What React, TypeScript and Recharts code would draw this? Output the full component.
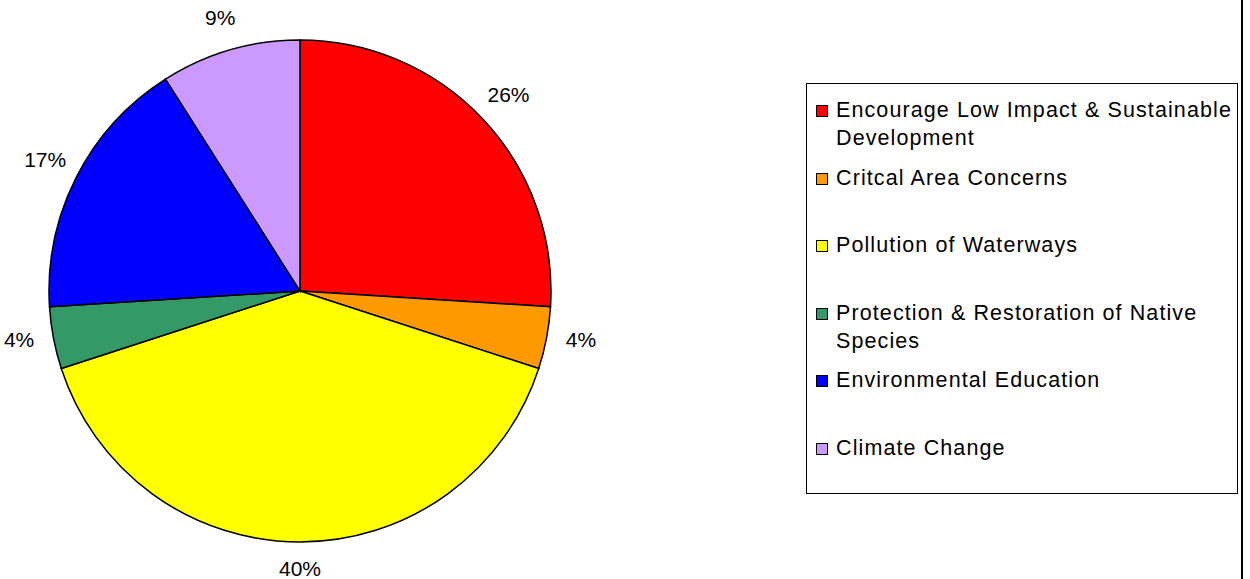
import { Cell, Legend, Pie, PieChart } from 'recharts'

const categories = [
  'Encourage Low Impact & Sustainable Development',
  'Critcal Area Concerns',
  'Pollution of Waterways',
  'Protection & Restoration of Native Species',
  'Environmental Education',
  'Climate Change',
]
const shares = [26, 4, 40, 4, 17, 9]
const colors = ['#FF0000', '#FF9900', '#FFFF00', '#339966', '#0000FF', '#CC99FF']

const data = categories.map((name, i) => ({ name, value: shares[i] }))

const FONT = '"Liberation Sans", Arial, sans-serif'
const RADIAN = Math.PI / 180

type LabelProps = { cx: number; cy: number; midAngle: number; outerRadius: number; value: number }

const renderLabel = ({ cx, cy, midAngle, outerRadius, value }: LabelProps) => {
  const cos = Math.cos(-midAngle * RADIAN)
  const sin = Math.sin(-midAngle * RADIAN)
  const x = cx + (outerRadius + 35) * cos
  const y = cy + (outerRadius + 30) * sin - 4
  return (
    <text x={x} y={y} textAnchor="middle" dominantBaseline="central" fill="#000" fontSize={21} fontFamily={FONT}>
      {`${value}%`}
    </text>
  )
}

const LegendBox = () => (
  <div
    style={{
      boxSizing: 'border-box',
      width: 432,
      height: 411,
      border: '1px solid #000',
      background: '#fff',
      paddingTop: 12,
      fontFamily: FONT,
      fontSize: 21.5,
      letterSpacing: 1.1,
      color: '#000',
    }}
  >
    {categories.map((name, i) => (
      <div key={name} style={{ display: 'flex', alignItems: 'flex-start', height: 67.5 }}>
        <span
          style={{
            boxSizing: 'border-box',
            width: 12,
            height: 12,
            marginLeft: 9,
            marginTop: 9,
            marginRight: 8,
            flex: 'none',
            background: colors[i],
            border: '1px solid #000',
          }}
        />
        <span style={{ width: 402, lineHeight: '28px', textAlign: 'left' }}>{name}</span>
      </div>
    ))}
  </div>
)

export default function App() {
  return (
    <div style={{ position: 'absolute', left: 0, top: 0, width: 1250, height: 579, background: '#fff' }}>
      <PieChart width={1250} height={579} margin={{ top: 0, right: 0, bottom: 0, left: 0 }}>
        <Pie
          data={data}
          dataKey="value"
          nameKey="name"
          cx={300}
          cy={291}
          outerRadius={251}
          startAngle={90}
          endAngle={-270}
          stroke="#000"
          strokeWidth={1.5}
          label={renderLabel}
          labelLine={false}
          isAnimationActive={false}
        >
          {data.map((entry, i) => (
            <Cell key={entry.name} fill={colors[i]} />
          ))}
        </Pie>
        <Legend
          content={<LegendBox />}
          wrapperStyle={{ position: 'absolute', left: 806, top: 83, width: 432, height: 411 }}
        />
      </PieChart>
      <div style={{ position: 'absolute', left: 1241, top: 0, width: 2, height: 579, background: '#000' }} />
    </div>
  )
}
